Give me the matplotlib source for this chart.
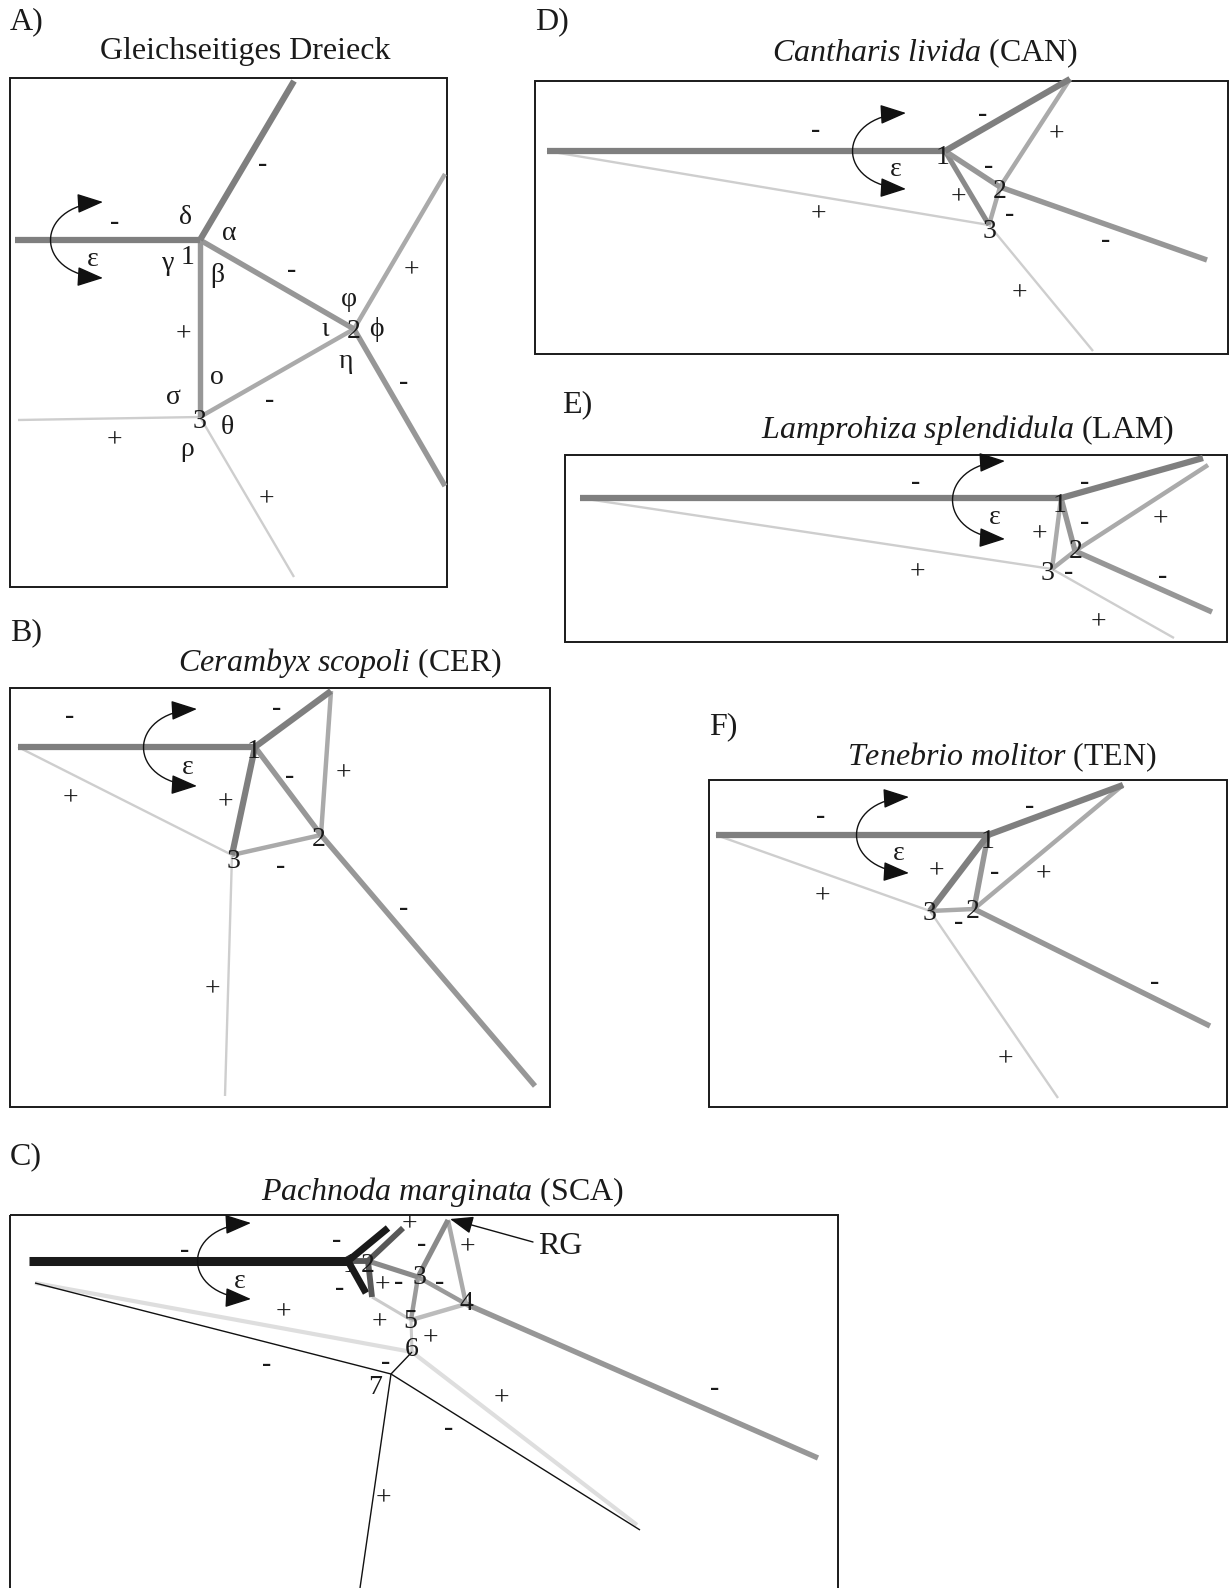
import matplotlib
matplotlib.use('Agg')
import matplotlib.pyplot as plt
from matplotlib.patches import FancyArrowPatch, Rectangle
from matplotlib.path import Path

plt.rcParams['font.family'] = ['Liberation Serif', 'DejaVu Serif']
plt.rcParams['mathtext.fontset'] = 'custom'
plt.rcParams['mathtext.rm'] = 'Liberation Serif'
plt.rcParams['mathtext.it'] = 'Liberation Serif:italic'

W, H = 1229, 1588

# line styles: colour, width (pt)
styles = {
    'dark':  ('#7f7f7f', 4.5),
    'mid':   ('#979797', 3.9),
    'light': ('#aaaaaa', 3.2),
    'pale':  ('#cecece', 1.7),
    'black': ('#1a1a1a', 6.5),
    'blk2':  ('#1a1a1a', 5.0),
    'dgray': ('#585858', 4.2),
    'g88':   ('#8a8a8a', 3.7),
    'g99':   ('#9a9a9a', 3.2),
    'gbb':   ('#bcbcbc', 3.2),
    'pale2': ('#cbcbcb', 2.2),
    'vpale': ('#dedede', 3.0),
    'thin':  ('#111111', 1.0),
}

# ---------------- A) equilateral triangle ----------------
A_nodes = {'s': (15, 240), '1': (200, 240), 't': (294, 81), '2': (354, 329),
           '3': (200, 417), 'u': (445, 174), 'd': (445, 486), 'l': (18, 420), 'b': (294, 577)}
A_edges = [('3', 'l', 'pale'), ('3', 'b', 'pale'), ('2', 'u', 'light'), ('2', 'd', 'mid'),
           ('3', '2', 'light'), ('1', '3', 'mid'), ('1', '2', 'mid'),
           ('s', '1', 'dark'), ('1', 't', 'dark')]
A_labels = [(115, 222, '-'), (185, 217, 'δ'), (229, 233, 'α'), (168, 263, 'γ'), (188, 258, '1'),
            (217, 276, 'β'), (263, 164, '-'), (292, 271, '-'), (411, 271, '+'), (349, 300, 'φ'),
            (325, 330, 'ι'), (354, 332, '2'), (376, 329, 'ϕ'), (346, 362, 'η'), (183, 335, '+'),
            (217, 378, 'ο'), (173, 397, 'σ'), (270, 400, '-'), (404, 382, '-'), (199, 422, '3'),
            (227, 427, 'θ'), (114, 441, '+'), (187, 450, 'ρ'), (266, 500, '+'), (93, 260, 'ε')]
A_box = (10, 78, 447, 587)
A_arc = (103, 202, 278, 51)
A_letter = (10, 22, 'A)')
A_title = (245, 51, 'Gleichseitiges Dreieck')

# ---------------- B) Cerambyx ----------------
B_nodes = {'s': (18, 747), '1': (255, 747), 't': (331, 691), '2': (321, 835), '3': (232, 855),
           'e2': (535, 1086), 'e3': (225, 1096)}
B_edges = [('s', '3', 'pale'), ('3', 'e3', 'pale'), ('2', 'e2', 'mid'), ('t', '2', 'light'),
           ('3', '2', 'light'), ('1', '2', 'mid'), ('1', '3', 'dark'),
           ('s', '1', 'dark'), ('1', 't', 'dark')]
B_labels = [(70, 716, '-'), (277, 709, '-'), (254, 752, '1'), (188, 767, 'ε'), (290, 776, '-'),
            (343, 774, '+'), (70, 799, '+'), (225, 803, '+'), (319, 840, '2'), (233, 861, '3'),
            (281, 867, '-'), (404, 909, '-'), (212, 990, '+')]
B_box = (10, 688, 550, 1107)
B_arc = (197, 709, 786, 144)
B_letter = (10, 633, 'B)')
B_title = (340, 663, r'$\mathit{Cerambyx\ scopoli}$ (CER)')

# ---------------- C) Pachnoda ----------------
C_nodes = {'s': (29, 1261), '1': (348, 1261), '2': (368, 1261), 'bu': (388, 1228),
           'bd': (366, 1293), 'du': (403, 1228), 'dd': (372, 1297), '3': (418, 1277),
           'rg': (448, 1220), '4': (466, 1304), '5': (411, 1320), '6': (412, 1352),
           '7': (391, 1374), 'e4': (818, 1458), 'e6': (637, 1525), 'e7a': (640, 1530),
           'e7b': (360, 1588), 'sl': (35, 1283)}
C_edges = [('sl', '6', 'vpale'), ('6', 'e6', 'vpale'), ('5', '6', 'pale2'), ('dd', '5', 'pale2'),
           ('sl', '7', 'thin'), ('6', '7', 'thin'), ('7', 'e7a', 'thin'), ('7', 'e7b', 'thin'),
           ('4', 'e4', 'mid'), ('5', '4', 'gbb'), ('3', '5', 'g99'), ('3', '4', 'g99'),
           ('rg', '4', 'light'), ('3', 'rg', 'g88'), ('2', '3', 'g88'),
           ('s', '1', 'black'), ('1', '2', 'dgray'), ('1', 'bu', 'blk2'), ('1', 'bd', 'blk2'),
           ('2', 'du', 'dgray'), ('2', 'dd', 'dgray')]
C_labels = [(185, 1250, '-'), (337, 1240, '-'), (409, 1225, '+'), (422, 1245, '-'),
            (467, 1248, '+'), (350, 1265, '1'), (368, 1265, '2'), (420, 1277, '3'),
            (240, 1282, 'ε'), (340, 1288, '-'), (382, 1286, '+'), (399, 1283, '-'),
            (440, 1283, '-'), (466, 1303, '4'), (283, 1313, '+'), (379, 1323, '+'),
            (410, 1322, '5'), (430, 1339, '+'), (412, 1350, '6'), (386, 1362, '-'),
            (267, 1365, '-'), (375, 1388, '7'), (501, 1399, '+'), (715, 1389, '-'),
            (449, 1429, '-'), (383, 1499, '+')]
C_box = (10, 1215, 838, 1600)
C_arc = (251, 1223, 1299, 198)
C_letter = (10, 1157, 'C)')
C_title = (443, 1192, r'$\mathit{Pachnoda\ marginata}$ (SCA)')
C_rg = (560, 1247, 'RG')
C_rg_arrow = ((533, 1242), (450, 1219))

# ---------------- D) Cantharis ----------------
D_nodes = {'s': (547, 151), '1': (945, 151), 't': (1070, 79), '2': (1000, 187), '3': (989, 225),
           'e2': (1207, 260), 'e3': (1093, 351)}
D_edges = [('s', '3', 'pale'), ('3', 'e3', 'pale'), ('2', 'e2', 'mid'), ('t', '2', 'light'),
           ('3', '2', 'light'), ('1', '3', 'g88'), ('1', '2', 'mid'),
           ('s', '1', 'dark'), ('1', 't', 'dark')]
D_labels = [(816, 130, '-'), (983, 114, '-'), (1056, 135, '+'), (943, 157, '1'), (989, 166, '-'),
            (1000, 192, '2'), (896, 170, 'ε'), (958, 198, '+'), (1010, 215, '-'), (989, 231, '3'),
            (818, 215, '+'), (1106, 240, '-'), (1019, 294, '+')]
D_box = (535, 81, 1228, 354)
D_arc = (906, 113, 189, 853)
D_letter = (535, 22, 'D)')
D_title = (925, 53, r'$\mathit{Cantharis\ livida}$ (CAN)')

# ---------------- E) Lamprohiza ----------------
E_nodes = {'s': (580, 498), '1': (1061, 498), 't': (1203, 458), 't2': (1208, 465),
           '2': (1075, 551), '3': (1052, 569), 'e2': (1212, 612), 'e3': (1174, 638)}
E_edges = [('s', '3', 'pale'), ('3', 'e3', 'pale'), ('2', 'e2', 'mid'), ('t2', '2', 'light'),
           ('3', '2', 'light'), ('1', '3', 'light'), ('1', '2', 'mid'),
           ('s', '1', 'dark'), ('1', 't', 'dark')]
E_labels = [(916, 483, '-'), (1085, 482, '-'), (1060, 505, '1'), (995, 518, 'ε'), (1085, 523, '-'),
            (1160, 520, '+'), (1039, 535, '+'), (1076, 552, '2'), (1048, 573, '3'),
            (1069, 573, '-'), (917, 573, '+'), (1163, 577, '-'), (1098, 623, '+')]
E_box = (565, 455, 1227, 642)
E_arc = (1005, 461, 539, 953)
E_letter = (562, 405, 'E)')
E_title = (968, 430, r'$\mathit{Lamprohiza\ splendidula}$ (LAM)')

# ---------------- F) Tenebrio ----------------
F_nodes = {'s': (716, 835), '1': (988, 835), 't': (1123, 785), '2': (974, 909), '3': (930, 911),
           'e2': (1210, 1026), 'e3': (1058, 1098)}
F_edges = [('s', '3', 'pale'), ('3', 'e3', 'pale'), ('2', 'e2', 'mid'), ('t', '2', 'light'),
           ('3', '2', 'light'), ('1', '2', 'mid'), ('1', '3', 'dark'),
           ('s', '1', 'dark'), ('1', 't', 'dark')]
F_labels = [(821, 817, '-'), (1030, 806, '-'), (988, 842, '1'), (899, 854, 'ε'), (936, 872, '+'),
            (995, 873, '-'), (1043, 875, '+'), (822, 897, '+'), (929, 913, '3'), (973, 912, '2'),
            (959, 922, '-'), (1155, 982, '-'), (1005, 1060, '+')]
F_box = (709, 780, 1227, 1107)
F_arc = (909, 797, 873, 857)
F_letter = (709, 727, 'F)')
F_title = (1002, 757, r'$\mathit{Tenebrio\ molitor}$ (TEN)')


def draw_panel(ax, nodes, edges, labels, box, arc, letter, title):
    for z, (a, b, st) in enumerate(edges):
        c, w = styles[st]
        ax.plot([nodes[a][0], nodes[b][0]], [nodes[a][1], nodes[b][1]],
                color=c, lw=w, solid_capstyle='butt', zorder=2 + z * 0.01)
    x0, y0, x1, y1 = box
    ax.add_patch(Rectangle((x0, y0), x1 - x0, y1 - y0, fill=False, ec='#1a1a1a', lw=1.4, zorder=1))
    # curved double arrow (epsilon)
    xt, yt, yb, xl = arc
    k = (xt - xl) / 0.75
    e = 4
    p = Path([(xt, yt), (xt - k, yt + e), (xt - k, yb - e), (xt, yb)],
             [Path.MOVETO, Path.CURVE4, Path.CURVE4, Path.CURVE4])
    ax.add_patch(FancyArrowPatch(path=p, arrowstyle='<|-|>,head_length=0.95,head_width=0.36',
                                 mutation_scale=17, lw=1.0, color='#111111', zorder=4))
    for x, y, s in labels:
        wt = 'bold' if s == '-' else 'normal'
        ax.text(x, y, s, fontsize=20, fontweight=wt, ha='center', va='center',
                color='#1a1a1a', zorder=5)
    ax.text(letter[0], letter[1], letter[2], fontsize=23, ha='left', va='center', color='#1a1a1a')
    ax.text(title[0], title[1], title[2], fontsize=23, ha='center', va='center', color='#1a1a1a')


fig = plt.figure(figsize=(W / 100, H / 100), dpi=100)
ax = fig.add_axes([0, 0, 1, 1])
ax.set_xlim(0, W)
ax.set_ylim(H, 0)
ax.axis('off')

draw_panel(ax, A_nodes, A_edges, A_labels, A_box, A_arc, A_letter, A_title)
draw_panel(ax, B_nodes, B_edges, B_labels, B_box, B_arc, B_letter, B_title)
draw_panel(ax, C_nodes, C_edges, C_labels, C_box, C_arc, C_letter, C_title)
draw_panel(ax, D_nodes, D_edges, D_labels, D_box, D_arc, D_letter, D_title)
draw_panel(ax, E_nodes, E_edges, E_labels, E_box, E_arc, E_letter, E_title)
draw_panel(ax, F_nodes, F_edges, F_labels, F_box, F_arc, F_letter, F_title)

# RG pointer in panel C
ax.text(C_rg[0], C_rg[1], C_rg[2], fontsize=23, ha='center', va='center', color='#1a1a1a')
ax.add_patch(FancyArrowPatch(posA=C_rg_arrow[0], posB=C_rg_arrow[1],
                             arrowstyle='-|>,head_length=0.95,head_width=0.36', mutation_scale=15,
                             lw=1.0, color='#111111', shrinkA=0, shrinkB=0, zorder=4))

fig.savefig('out.png', dpi=100)
